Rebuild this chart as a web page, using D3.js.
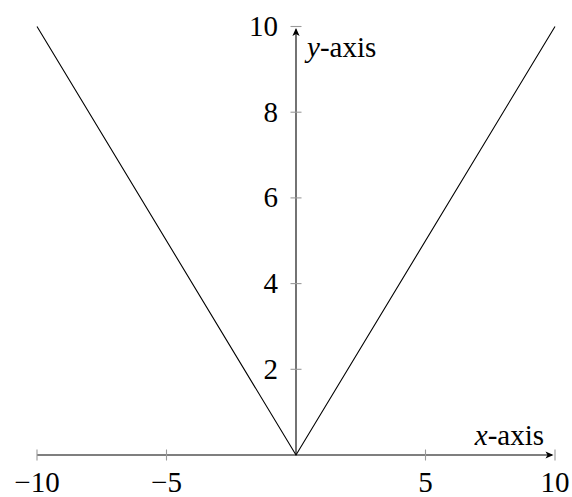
<!DOCTYPE html>
<html>
<head>
<meta charset="utf-8">
<script src="https://cdn.jsdelivr.net/npm/d3@7"></script>
<style>
  html, body { margin: 0; padding: 0; background: #fff; }
  #chart text { font-family: "Liberation Serif", "Tinos", "Times New Roman" !important; }
</style>
</head>
<body>
<svg id="chart" width="572" height="497" font-family="Liberation Serif"></svg>
<script>
// y = |x| sampled at the ends and the vertex
const xValues = [-10, 0, 10];
const yValues = [10, 0, 10];
const xTicks = [-10, -5, 5, 10];
const yTicks = [2, 4, 6, 8, 10];
const xLabel = "x";
const yLabel = "y";

const svg = d3.select("#chart");
const fontSize = 29;

const x = d3.scaleLinear().domain([-10, 10]).range([37, 555]);
const y = d3.scaleLinear().domain([0, 10]).range([455, 26.5]);

const tickColor = "#9a9a9a";
const axisW = 1.1;

// plotted curve
const line = d3.line().x((d, i) => x(xValues[i])).y((d, i) => y(yValues[i]));
svg.append("path")
  .datum(xValues)
  .attr("d", line)
  .attr("fill", "none")
  .attr("stroke", "#000")
  .attr("stroke-width", 1.1)
  .attr("stroke-linejoin", "miter");

// axis lines through the origin
const x0 = x(0), y0 = y(0);
svg.append("line")
  .attr("x1", x(-10)).attr("x2", x(10) - 3)
  .attr("y1", y0).attr("y2", y0)
  .attr("stroke", "#000").attr("stroke-width", axisW);
svg.append("line")
  .attr("x1", x0).attr("x2", x0)
  .attr("y1", y0).attr("y2", y(10) + 3)
  .attr("stroke", "#000").attr("stroke-width", axisW);

// stealth-style arrowheads
function arrow(tx, ty, angle) {
  svg.append("path")
    .attr("d", "M0,0 L-8,-3.6 L-6,0 L-8,3.6 Z")
    .attr("transform", `translate(${tx},${ty}) rotate(${angle})`)
    .attr("fill", "#000");
}
arrow(x(10) - 1.5, y0, 0);
arrow(x0, y(10) + 1.5, -90);

function styleText(sel) {
  return sel.style("font-family", () => `"Liberation Serif"`)
    .attr("font-size", fontSize)
    .attr("fill", "#000");
}

// x ticks
const xt = svg.append("g");
xt.selectAll("line").data(xTicks).join("line")
  .attr("x1", d => x(d)).attr("x2", d => x(d))
  .attr("y1", y0 - 5.5).attr("y2", y0 + 5.5)
  .attr("stroke", tickColor).attr("stroke-width", 1.1);
styleText(xt.selectAll("text").data(xTicks).join("text"))
  .attr("x", d => x(d))
  .attr("y", 492)
  .attr("text-anchor", "middle")
  .text(d => d < 0 ? "\u2212" + Math.abs(d) : String(d));

// y ticks
const yt = svg.append("g");
yt.selectAll("line").data(yTicks).join("line")
  .attr("x1", x0 - 5.5).attr("x2", x0 + 5.5)
  .attr("y1", d => y(d)).attr("y2", d => y(d))
  .attr("stroke", tickColor).attr("stroke-width", 1.1);
styleText(yt.selectAll("text").data(yTicks).join("text"))
  .attr("x", x0 - 18)
  .attr("y", d => y(d) + 9.5)
  .attr("text-anchor", "end")
  .text(d => String(d));

// axis labels
const xl = styleText(svg.append("text"))
  .attr("x", 544).attr("y", 445)
  .attr("text-anchor", "end");
xl.append("tspan").attr("font-style", "italic").text(xLabel);
xl.append("tspan").text("-axis");

const yl = styleText(svg.append("text"))
  .attr("x", 307).attr("y", 57)
  .attr("text-anchor", "start");
yl.append("tspan").attr("font-style", "italic").text(yLabel);
yl.append("tspan").text("-axis");
</script>
</body>
</html>
